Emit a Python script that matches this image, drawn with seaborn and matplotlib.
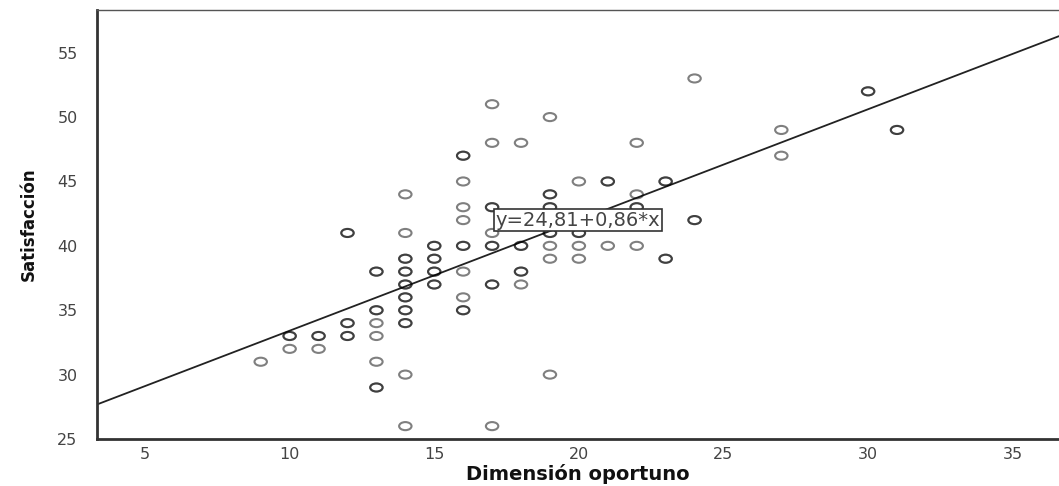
"""
Diagrama de dispersión: Satisfacción vs Dimensión oportuno
con recta de regresión (estilo SPSS)
"""
import numpy as np
import pandas as pd
import matplotlib
matplotlib.use("Agg")
import matplotlib.pyplot as plt
from matplotlib.path import Path
import seaborn as sns

# puntos (x, y, número de casos superpuestos aprox.)
dim_oportuno = [9, 10, 10, 11, 11, 12, 12, 12,
                13, 13, 13, 13, 13, 13,
                14, 14, 14, 14, 14, 14, 14, 14, 14, 14,
                15, 15, 15, 15,
                16, 16, 16, 16, 16, 16, 16, 16,
                17, 17, 17, 17, 17, 17, 17,
                18, 18, 18, 18,
                19, 19, 19, 19, 19, 19, 19,
                20, 20, 20, 20,
                21, 21,
                22, 22, 22, 22,
                23, 23, 24, 24, 27, 27, 30, 31]
satisfaccion = [31, 33, 32, 33, 32, 41, 34, 33,
                38, 35, 34, 33, 31, 29,
                44, 41, 39, 38, 37, 36, 35, 34, 30, 26,
                40, 39, 38, 37,
                47, 45, 43, 42, 40, 38, 36, 35,
                51, 48, 43, 41, 40, 37, 26,
                48, 40, 38, 37,
                50, 44, 43, 41, 40, 39, 30,
                45, 41, 40, 39,
                45, 40,
                48, 44, 43, 40,
                45, 39, 53, 42, 49, 47, 52, 49]
casos = [1, 2, 1, 2, 1, 2, 2, 2,
         2, 2, 1, 1, 1, 2,
         1, 1, 2, 2, 2, 2, 2, 2, 1, 1,
         2, 2, 2, 2,
         2, 1, 1, 1, 2, 1, 1, 2,
         1, 1, 2, 1, 2, 2, 1,
         1, 2, 2, 1,
         1, 2, 2, 2, 1, 1, 1,
         1, 2, 1, 1,
         2, 1,
         1, 1, 2, 1,
         2, 2, 1, 2, 1, 1, 2, 2]

intercepto = 24.81
pendiente = 0.86
etiqueta_recta = "y=24,81+0,86*x"

df = pd.DataFrame({"x": np.repeat(dim_oportuno, casos),
                   "y": np.repeat(satisfaccion, casos)})

sns.set_style("white")
plt.rcParams["font.family"] = ["DejaVu Sans"]

fig = plt.figure(figsize=(10.59, 4.86), dpi=100)
ax = fig.add_axes([0.0916, 0.0967, 0.9084, 0.8823])

# marcador circular algo aplanado, como en la imagen original
circ = Path.unit_circle()
elipse = Path(circ.vertices * np.array([1.0, 0.65]), circ.codes)

sns.scatterplot(data=df, x="x", y="y", ax=ax, marker=elipse, s=80,
                facecolors="none", edgecolor="black", linewidth=1.5,
                alpha=0.5, zorder=3)

ax.axline((0, intercepto), slope=pendiente, color="#222222", lw=1.3, zorder=2)

ax.text(17.12, 42, etiqueta_recta, fontsize=14, color="#444444",
        ha="left", va="center", zorder=5,
        bbox=dict(boxstyle="square,pad=0.08", fc="white", ec="#333333", lw=1.2))

ax.set_xlim(3.34, 36.6)
ax.set_ylim(25, 58.3)
ax.set_xticks(range(5, 36, 5))
ax.set_yticks(range(25, 56, 5))

for s in ["left", "bottom"]:
    ax.spines[s].set_linewidth(2)
    ax.spines[s].set_color("#333333")
ax.spines["top"].set_linewidth(1)
ax.spines["top"].set_color("#555555")
ax.spines["right"].set_visible(False)

ax.tick_params(axis="y", direction="out", length=13, width=1.3,
               color="#444444", labelsize=11.5, labelcolor="#444444", pad=1)
ax.tick_params(axis="x", direction="out", length=6, width=1.6,
               color="#444444", labelsize=11.5, labelcolor="#444444", pad=0)

ax.set_xlabel("Dimensión oportuno", fontsize=14, fontweight="bold",
              color="#111111", labelpad=1)
ax.set_ylabel("Satisfacción", fontsize=12, fontweight="bold",
              color="#111111", labelpad=14,
              family=["DejaVu Sans Condensed", "Liberation Sans Narrow", "DejaVu Sans"])

fig.savefig("out.png", dpi=100)
print("[OK] out.png")
